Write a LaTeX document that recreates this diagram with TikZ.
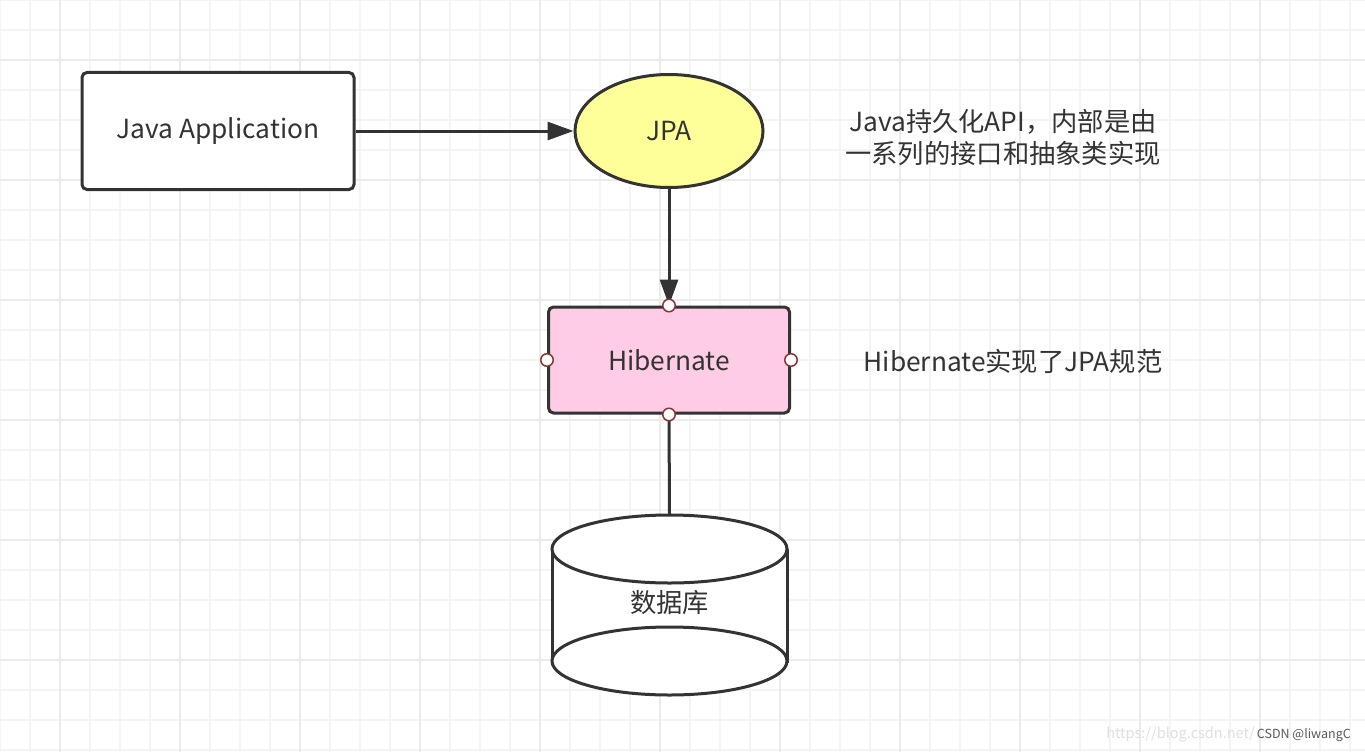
\documentclass[tikz,border=0pt]{standalone}
\usepackage{fontspec}
\setmainfont{Noto Sans CJK SC}
\usepackage{tikz}
\usetikzlibrary{shapes.geometric,arrows.meta}
\definecolor{ink}{HTML}{333333}
\definecolor{gridminor}{HTML}{F4F4F4}
\definecolor{gridmajor}{HTML}{EBEBEB}
\definecolor{jpafill}{HTML}{FFFF99}
\definecolor{hibfill}{HTML}{FFCCE6}
\definecolor{portred}{HTML}{8E3434}
\tikzstyle{texto}=[inner sep=0pt,text=ink,font=\fontsize{26.3}{32}\selectfont]
\tikzstyle{caixa}=[texto,draw=ink,line width=3pt,rounded corners=5pt,rectangle]
\tikzstyle{porta}=[circle,draw=portred,fill=white,line width=1.5pt,inner sep=0pt,minimum size=12.5pt]
\tikzstyle{seta}=[draw=ink,line width=3pt,-{Triangle[length=26pt,width=18pt]}]

\begin{document}
\begin{tikzpicture}[x=1pt,y=-1pt]
    \fill [white] (0,0) rectangle (1365,752);
    \useasboundingbox (0,0) rectangle (1365,752);
    \foreach \x in {0,30,...,1350} \draw [gridminor,line width=1.5pt] (\x,0) -- (\x,752);
    \foreach \y in {0,30,...,750} \draw [gridminor,line width=1.5pt] (0,\y) -- (1365,\y);
    \foreach \x in {60,180,...,1300} \draw [gridmajor,line width=1.5pt] (\x,0) -- (\x,752);
    \foreach \y in {60,180,...,700} \draw [gridmajor,line width=1.5pt] (0,\y) -- (1365,\y);

    \node [caixa,fill=white,minimum width=272pt,minimum height=117pt] (app) at (218,131) {Java Application};
    \node [texto,ellipse,draw=ink,line width=3pt,fill=jpafill,minimum width=188pt,minimum height=113pt] (jpa) at (669,131) {JPA};
    \node [caixa,fill=hibfill,minimum width=241pt,minimum height=106pt] (hib) at (669,360) {Hibernate};

    \draw [seta] (app.east) -- (jpa.west);
    \draw [seta] (jpa.south) -- (hib.north);

    \coordinate (dbtop) at (669.5,515);
    \draw [ink,line width=3pt] (hib.south) -- (dbtop);
    \draw [ink,line width=3pt,fill=white] (552,549) -- (552,661) -- (787,661) -- (787,549);
    \draw [ink,line width=3pt,fill=white] (669.5,661) ellipse [x radius=117.5pt, y radius=34pt];
    \draw [ink,line width=3pt,fill=white] (669.5,549) ellipse [x radius=117.5pt, y radius=34pt];
    \node [texto] (db) at (669.5,603) {数据库};

    \node [porta] at (hib.north) {};
    \node [porta] at (hib.south) {};
    \node [porta] at (hib.west) {};
    \node [porta] at (hib.east) {};

    \node [texto,align=center] (notajpa) at (1003,138) {Java持久化API，内部是由\\一系列的接口和抽象类实现};
    \node [texto] (notahib) at (1013,361) {Hibernate实现了JPA规范};

    \node [inner sep=0pt,anchor=east,text=black!12,font=\fontsize{14.5}{15}\selectfont] (url) at (1255,735) {https://blog.csdn.net/};
    \node [inner sep=0pt,anchor=east,text=black!65,font=\fontsize{12.5}{13}\selectfont] (marca) at (1351,735) {CSDN @liwangC};
\end{tikzpicture}
\end{document}
